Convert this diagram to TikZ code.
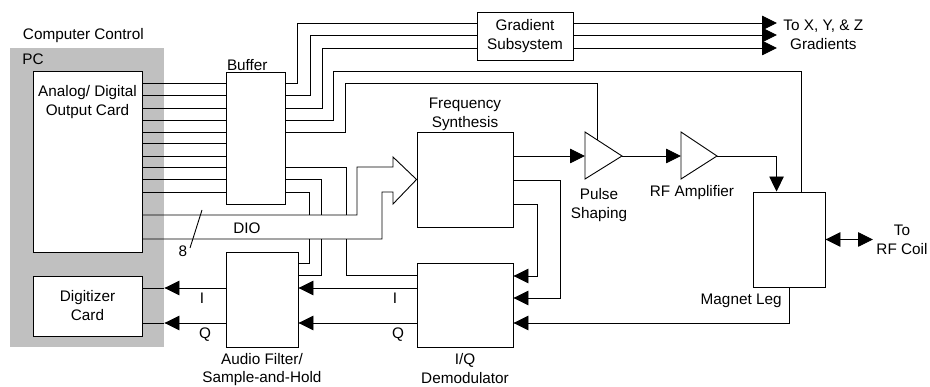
\documentclass[tikz,border=0pt]{standalone}
\usepackage{fontspec}
\setmainfont{Liberation Sans}
\usetikzlibrary{arrows.meta,positioning}
\definecolor{pcgray}{HTML}{C0C0C0}
\begin{document}
\begin{tikzpicture}[x=1pt,y=-1pt,line width=.9pt,font=\fontsize{15.3}{19}\selectfont,
blk/.style={draw,fill=white,inner sep=0pt},
lbl/.style={align=center,inner sep=0pt},
arr/.style={-{Triangle[length=15pt,width=14.5pt]}},
darr/.style={{Triangle[length=15pt,width=14.5pt]}-{Triangle[length=15pt,width=14.5pt]}}]
\useasboundingbox (0,0) rectangle (930,387);
\node[fill=pcgray,minimum width=154pt,minimum height=299pt,inner sep=0pt](pc) at (87,197.5){};
\node[lbl,anchor=base west](cc) at ([shift={(13,-8)}]pc.north west){Computer Control};
\node[lbl,anchor=base west](pcl) at ([shift={(12.5,17)}]pc.north west){PC};
\node[blk,minimum width=109pt,minimum height=181pt](card) at (87.5,161.5){};
\node[lbl,below=14.5pt of card.north](cardl){Analog/ Digital\\Output Card};
\node[blk,minimum width=109pt,minimum height=60pt,align=center](dig) at (87.5,306){Digitizer\\Card};
\node[blk,minimum width=59pt,minimum height=132pt](buf) at (255.5,138){};
\node[lbl,anchor=base west](bufl) at ([shift={(1,-1)}]buf.north west){Buffer};
\node[blk,minimum width=96pt,minimum height=48pt,align=center](grad) at (525,36){Gradient\\Subsystem};
\node[blk,minimum width=96pt,minimum height=95pt](fs) at (465,179.5){};
\node[lbl,above=.5pt of fs](fsl){Frequency\\Synthesis};
\node[blk,minimum width=96pt,minimum height=84pt](iq) at (465,305){};
\node[lbl,below=6pt of iq](iql){I/Q\\Demodulator};
\node[blk,minimum width=72pt,minimum height=95pt](af) at (262,299.5){};
\node[lbl,below=6pt of af,font=\fontsize{15.3}{18}\selectfont](afl){Audio Filter/\\Sample-and-Hold};
\node[blk,minimum width=72pt,minimum height=95pt](ml) at (789,239.5){};
\node[lbl,anchor=north east](mll) at ([shift={(-7,6)}]ml.south){Magnet Leg};
\draw[fill=white](585,132)--(622,156)coordinate(psout)--(585,179)--cycle;
\coordinate(psin) at (585,156);\coordinate(pstop) at (597,140);
\node[lbl,anchor=north](psl) at (599,188){Pulse\\Shaping};
\draw[fill=white](681,132)--(717,156)coordinate(rfout)--(681,179)--cycle;
\coordinate(rfin) at (681,156);
\node[lbl,anchor=north](rfl) at (692,185){RF Amplifier};
\coordinate(gout) at (777,35);\coordinate(rfc) at (873,239.5);
\node[lbl,right=6pt of gout](goutl){To X, Y, \& Z\\Gradients};
\node[lbl,right=3pt of rfc](rfcl){To\\RF Coil};
\foreach \y in {83,95,108,120,132,143,156,167,179,192}\draw(card.east|-0,\y)--(buf.west|-0,\y);
\foreach \y/\x/\t in {83/297/23,95/310/35,108/322/48}{\draw(buf.east|-0,\y)-|(\x,\t)--(grad.west|-0,\t);
  \draw[arr](grad.east|-0,\t)--(gout|-0,\t);}
\draw(buf.east|-0,120)-|(333,71)-|([xshift=-24pt]ml.north east);
\draw(buf.east|-0,132)-|(345,83)-|(pstop);
\draw(buf.east|-0,167)-|(346,215);\draw(346,239)|-(iq.west|-0,275);
\draw(buf.east|-0,179)-|(321,215);\draw(321,239)|-(af.east|-0,275);
\draw(buf.east|-0,192)-|(309,215);\draw(309,239)|-(af.east|-0,263);
\draw(card.east|-0,215)--(357,215)--(357,167)--(393,167)--(393,157)--(fs.west)--(393,204)--(393,192)--(382,192)--(382,239)--(card.east|-0,239);
\draw(202,210)--(190,248);
\node[lbl](n8) at (183,251){8};\node[lbl](dio) at (247,228){DIO};
\draw[arr](fs.east|-0,156)--(psin);
\draw[arr](fs.east|-0,180)-|(560,298)--(iq.east|-0,298);
\draw[arr](fs.east|-0,204)-|(537,276)--(iq.east|-0,276);
\draw[arr](psout)--(rfin);
\draw[arr](rfout)-|([xshift=24pt]ml.north west);
\draw[arr](ml.south)|-(iq.east|-0,323);
\draw[darr](ml.east)--(rfc);
\foreach \y in {288,323}{\draw[arr](iq.west|-0,\y)--(af.east|-0,\y);
  \draw[arr](af.west|-0,\y)--(pc.east|-0,\y);\draw(pc.east|-0,\y)--(dig.east|-0,\y);}
\node[lbl](afi) at (202,298){I};\node[lbl](afq) at (205,335){Q};
\node[lbl](iqi) at (395,298){I};\node[lbl](iqq) at (398,335){Q};
\end{tikzpicture}
\end{document}
